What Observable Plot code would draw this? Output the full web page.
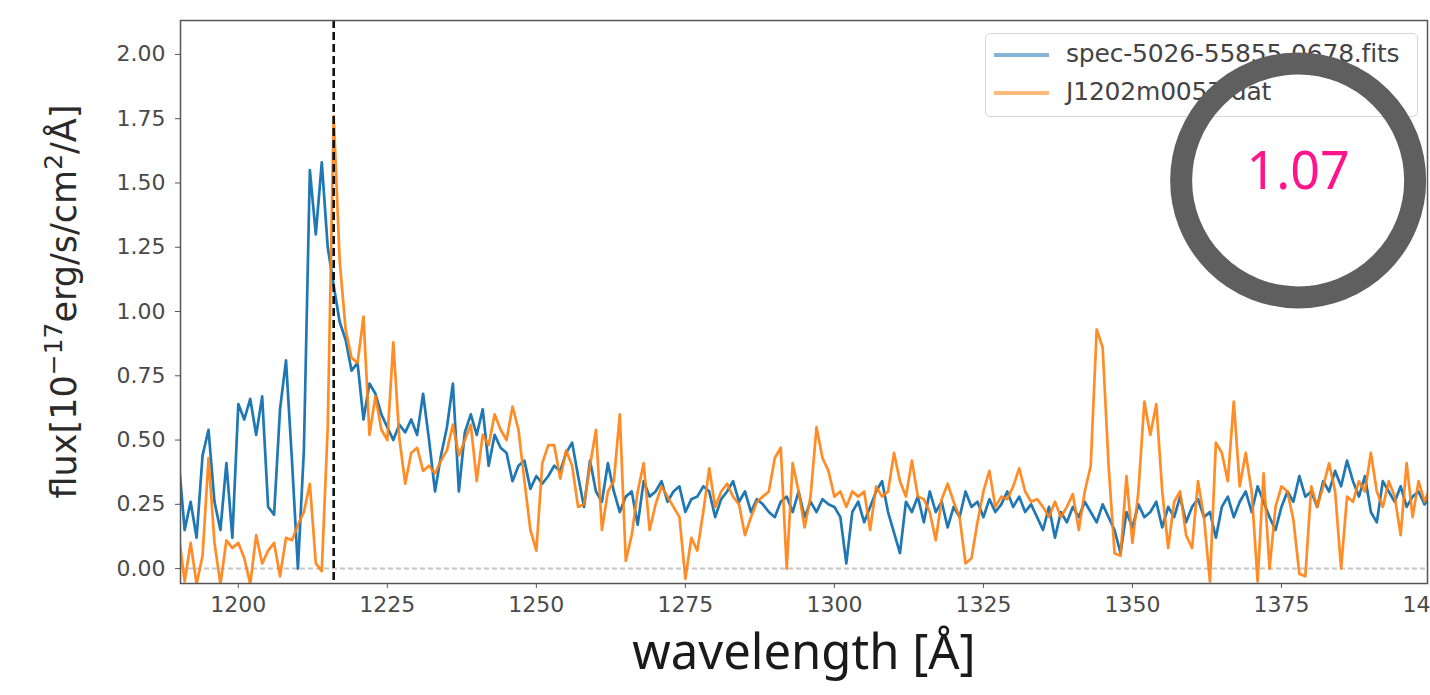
<!DOCTYPE html>
<html>
<head>
<meta charset="utf-8">
<script src="https://cdn.jsdelivr.net/npm/d3@7"></script>
<script src="https://cdn.jsdelivr.net/npm/@observablehq/plot@0.6"></script>
<style>
  body { margin: 0; background: #fff; width: 1430px; height: 695px; overflow: hidden; font-family: "DejaVu Sans", sans-serif; }
  #wrap { position: relative; width: 1430px; height: 625px; }
  #legend { position: absolute; left: 985px; top: 33px; width: 433px; height: 84px; box-sizing: border-box;
            border: 1.5px solid #d6d6d6; border-radius: 5px; background: rgba(255,255,255,0.85); z-index: 0; }
  #legend .row { position: absolute; left: 0; height: 30px; width: 100%; }
  #legend .swatch { position: absolute; left: 8px; top: 14px; width: 55px; height: 3.5px; opacity: 0.55; }
  #legend .name { position: absolute; left: 80px; top: 0; font-size: 25px; line-height: 30px; color: #444; white-space: nowrap; letter-spacing: -0.2px; }
  #chart { position: absolute; left: 0; top: 0; z-index: 1; }
  #xlabel { position: absolute; left: 180px; top: 626px; width: 1248px; text-align: center;
            font-family: "Noto Sans", sans-serif; font-size: 49px; line-height: 1; color: #1a1a1a; }
</style>
</head>
<body>
<div id="wrap">
  <div id="legend"></div>
  <div id="chart"></div>
</div>
<div id="xlabel">wavelength [Å]</div>
<script>
// Rest-frame wavelength grid (Å), one sample per Å starting here
const wavelengthStart = 1190;

// SDSS spectrum flux, 1190–1400 Å
const sdssFlux = [
  0.42, 0.15, 0.26, 0.12, 0.44, 0.54, 0.26, 0.15, 0.41, 0.12,
  0.64, 0.58, 0.66, 0.52, 0.67, 0.24, 0.21, 0.62, 0.81, 0.42,
  0.00, 0.46, 1.55, 1.30, 1.58, 1.25, 1.10, 0.96, 0.89, 0.77,
  0.80, 0.58, 0.72, 0.68, 0.60, 0.55, 0.50, 0.56, 0.53, 0.58,
  0.52, 0.68, 0.50, 0.30, 0.44, 0.55, 0.72, 0.30, 0.53, 0.60,
  0.52, 0.62, 0.40, 0.52, 0.47, 0.45, 0.34, 0.40, 0.42, 0.31,
  0.36, 0.33, 0.36, 0.40, 0.38, 0.45, 0.49, 0.36, 0.24, 0.42,
  0.30, 0.26, 0.41, 0.30, 0.22, 0.28, 0.30, 0.17, 0.34, 0.28,
  0.30, 0.34, 0.26, 0.30, 0.32, 0.22, 0.27, 0.28, 0.32, 0.30,
  0.20, 0.27, 0.30, 0.34, 0.26, 0.30, 0.22, 0.27, 0.25, 0.22,
  0.20, 0.26, 0.28, 0.22, 0.30, 0.20, 0.26, 0.22, 0.27, 0.25,
  0.24, 0.20, 0.02, 0.22, 0.26, 0.18, 0.24, 0.30, 0.34, 0.22,
  0.14, 0.06, 0.26, 0.22, 0.28, 0.18, 0.30, 0.22, 0.26, 0.16,
  0.24, 0.20, 0.30, 0.24, 0.26, 0.20, 0.27, 0.22, 0.25, 0.30,
  0.24, 0.28, 0.22, 0.25, 0.20, 0.15, 0.24, 0.12, 0.22, 0.18,
  0.24, 0.20, 0.26, 0.22, 0.18, 0.25, 0.20, 0.15, 0.06, 0.22,
  0.16, 0.25, 0.20, 0.22, 0.26, 0.16, 0.24, 0.20, 0.28, 0.18,
  0.24, 0.27, 0.20, 0.22, 0.12, 0.24, 0.28, 0.20, 0.26, 0.30,
  0.22, 0.32, 0.26, 0.20, 0.15, 0.24, 0.30, 0.26, 0.36, 0.28,
  0.30, 0.24, 0.34, 0.30, 0.38, 0.32, 0.42, 0.34, 0.28, 0.36,
  0.22, 0.18, 0.34, 0.30, 0.26, 0.32, 0.24, 0.28, 0.30, 0.25,
  0.28
];

// J1202m0057 spectrum flux, same grid
const j1202Flux = [
  0.13, -0.05, 0.10, -0.06, 0.05, 0.43, 0.10, -0.06, 0.11, 0.08,
  0.10, 0.04, -0.06, 0.13, 0.02, 0.07, 0.10, -0.03, 0.12, 0.11,
  0.17, 0.22, 0.33, 0.02, -0.01, 0.55, 1.76, 1.20, 0.93, 0.82,
  0.80, 0.98, 0.52, 0.67, 0.54, 0.50, 0.88, 0.51, 0.33, 0.45,
  0.47, 0.38, 0.40, 0.37, 0.42, 0.46, 0.56, 0.44, 0.50, 0.56,
  0.34, 0.52, 0.48, 0.60, 0.54, 0.50, 0.63, 0.54, 0.34, 0.15,
  0.07, 0.41, 0.48, 0.48, 0.35, 0.46, 0.40, 0.24, 0.25, 0.40,
  0.54, 0.15, 0.30, 0.34, 0.60, 0.03, 0.13, 0.30, 0.41, 0.15,
  0.25, 0.32, 0.28, 0.24, 0.20, -0.04, 0.12, 0.07, 0.22, 0.39,
  0.24, 0.30, 0.33, 0.28, 0.25, 0.13, 0.20, 0.26, 0.28, 0.30,
  0.43, 0.47, 0.00, 0.41, 0.30, 0.16, 0.28, 0.55, 0.43, 0.38,
  0.28, 0.30, 0.24, 0.30, 0.28, 0.30, 0.15, 0.32, 0.28, 0.30,
  0.45, 0.34, 0.28, 0.42, 0.28, 0.27, 0.22, 0.11, 0.27, 0.33,
  0.26, 0.20, 0.02, 0.04, 0.18, 0.30, 0.38, 0.24, 0.28, 0.27,
  0.32, 0.39, 0.30, 0.26, 0.27, 0.24, 0.20, 0.26, 0.20, 0.24,
  0.29, 0.15, 0.30, 0.40, 0.93, 0.86, 0.40, 0.06, 0.05, 0.36,
  0.10, 0.30, 0.65, 0.52, 0.64, 0.30, 0.08, 0.26, 0.30, 0.13,
  0.08, 0.34, 0.20, -0.05, 0.49, 0.45, 0.34, 0.65, 0.32, 0.45,
  0.30, -0.05, 0.37, 0.00, 0.24, 0.32, 0.30, 0.19, -0.02, -0.03,
  0.32, 0.24, 0.32, 0.41, 0.30, 0.00, 0.28, 0.26, 0.34, 0.30,
  0.45, 0.30, 0.24, 0.34, 0.28, 0.13, 0.41, 0.20, 0.34, 0.26,
  0.32
];

const seriesNames = ["spec-5026-55855-0678.fits", "J1202m0057.dat"];
const seriesColors = ["#1f77b4", "#ff7f0e"];
const xTicks = [1200, 1225, 1250, 1275, 1300, 1325, 1350, 1375, 1400];
const yTicks = [0, 0.25, 0.5, 0.75, 1.0, 1.25, 1.5, 1.75, 2.0];
const lymanAlpha = [1216];
const ratioNote = [{ wavelength: 1377.8, flux: 1.51, text: "1.07" }];

const toRows = (values, name) =>
  values.map((flux, i) => ({ wavelength: wavelengthStart + i, flux, series: name }));
const sdssRows = toRows(sdssFlux, seriesNames[0]);
const j1202Rows = toRows(j1202Flux, seriesNames[1]);

const chart = Plot.plot({
  width: 1430,
  height: 625,
  marginLeft: 180,
  marginRight: 3,
  marginTop: 20,
  marginBottom: 42,
  style: { background: "transparent", fontFamily: "DejaVu Sans, sans-serif", fontSize: "22px", color: "#4a4a4a", overflow: "visible" },
  x: { domain: [1190.3, 1399.5] },
  y: { domain: [-0.058, 2.132] },
  marks: [
    Plot.ruleY([0], { stroke: "#c6c6c6", strokeWidth: 2, strokeDasharray: "5,3" }),
    Plot.lineY(sdssRows, { x: "wavelength", y: "flux", stroke: seriesColors[0], strokeWidth: 2.7, clip: true }),
    Plot.lineY(j1202Rows, { x: "wavelength", y: "flux", stroke: seriesColors[1], strokeWidth: 2.7, strokeOpacity: 0.9, clip: true }),
    Plot.ruleX(lymanAlpha, { stroke: "#111", strokeWidth: 2.6, strokeDasharray: "8,4" }),
    Plot.frame({ stroke: "#555", strokeWidth: 1.5 }),
    Plot.axisX(xTicks, { tickSize: 5, tickPadding: 8, tickFormat: d => String(d), label: null, stroke: "#555" }),
    Plot.axisY(yTicks, { tickSize: 5, tickPadding: 10, tickFormat: d3.format(".2f"), label: null, stroke: "#555" }),
    Plot.dot(ratioNote, { x: "wavelength", y: "flux", r: 117, fill: "none", stroke: "#5f5f5f", strokeWidth: 22 }),
    Plot.text(ratioNote, { x: "wavelength", y: d => d.flux + 0.03, text: "text", fill: "#ff148c", fontSize: 52, fontFamily: "Noto Sans, sans-serif" })
  ]
});
document.getElementById("chart").appendChild(chart);

// y-axis title with superscripts
const yTitle = d3.select(chart).append("text")
  .attr("transform", `translate(76,${(20 + 583) / 2}) rotate(-90)`)
  .attr("text-anchor", "middle")
  .attr("font-size", 35)
  .attr("fill", "#2a2a2a");
yTitle.append("tspan").text("flux[10");
yTitle.append("tspan").attr("baseline-shift", "super").attr("font-size", 25).text("−17");
yTitle.append("tspan").text("erg/s/cm");
yTitle.append("tspan").attr("baseline-shift", "super").attr("font-size", 25).text("2");
yTitle.append("tspan").text("/Å]");

// legend entries
const legend = d3.select("#legend");
seriesNames.forEach((name, i) => {
  const row = legend.append("div").attr("class", "row").style("top", `${5 + i * 38}px`);
  row.append("span").attr("class", "swatch").style("background", seriesColors[i]);
  row.append("span").attr("class", "name").text(name);
});
</script>
</body>
</html>
